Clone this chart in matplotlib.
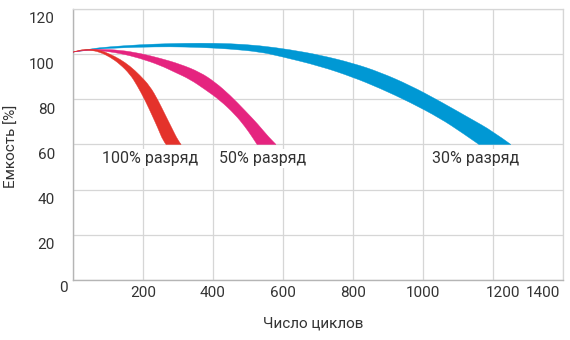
import numpy as np
import matplotlib
matplotlib.use("Agg")
import matplotlib.pyplot as plt
from matplotlib.path import Path
from matplotlib.patches import PathPatch
from matplotlib.transforms import ScaledTranslation

plt.rcParams['font.family'] = ['Roboto', 'DejaVu Sans']

# Capacity (%) vs. number of cycles, each band bounded by an outer and inner curve
red_outer_x = [0, 20, 49, 77, 106, 134, 163, 191, 220, 243, 263, 283, 300, 309]
red_outer_y = [100.9, 102.0, 102.2, 101.8, 100.0, 97.8, 94.7, 90.7, 85.8, 79.6, 73.3, 67.1, 61.8, 60.0]
red_inner_x = [0, 20, 49, 77, 106, 134, 163, 183, 206, 226, 243, 257, 266]
red_inner_y = [100.9, 101.8, 101.8, 100.9, 98.7, 95.6, 91.1, 86.2, 79.6, 72.9, 67.1, 61.8, 60.0]

mag_outer_x = [0, 34, 77, 134, 191, 249, 306, 363, 406, 449, 491, 529, 557, 580]
mag_outer_y = [100.9, 102.0, 102.2, 101.8, 100.4, 98.2, 95.6, 92.0, 87.6, 81.8, 75.1, 68.9, 63.6, 60.0]
mag_inner_x = [0, 34, 77, 134, 191, 249, 291, 334, 377, 420, 463, 491, 511, 526]
mag_inner_y = [100.9, 101.8, 101.6, 100.4, 98.2, 95.1, 92.0, 88.9, 84.4, 79.6, 73.3, 68.0, 63.6, 60.0]

blue_outer_x = [0, 49, 106, 191, 277, 363, 449, 534, 620, 706, 800, 877, 963, 1049, 1134, 1200, 1251]
blue_outer_y = [100.9, 102.4, 103.3, 104.2, 104.7, 104.9, 104.7, 103.8, 102.0, 99.6, 96.0, 92.0, 86.2, 79.1, 71.6, 65.8, 60.0]
blue_inner_x = [0, 49, 106, 191, 277, 363, 449, 534, 591, 706, 800, 877, 963, 1049, 1111, 1160]
blue_inner_y = [100.9, 102.0, 102.6, 103.1, 103.3, 103.0, 102.3, 101.0, 99.1, 94.7, 89.8, 84.9, 78.7, 71.6, 65.3, 60.0]

band_labels = ["30% разряд", "50% разряд", "100% разряд"]
label_x = [1151, 543, 220]
label_y = 53.8

x_ticks = [200, 400, 600, 800, 1000, 1200, 1400]
y_ticks = [20, 40, 60, 80, 100, 120]

colors = ["#0098d4", "#e5247f", "#e4322b"]


def smooth_segments(xs, ys):
    """Quadratic Bezier chain through midpoints, using the points as controls."""
    pts = np.column_stack([xs, ys])
    verts, codes = [], []
    for i in range(1, len(pts) - 1):
        mid = (pts[i] + pts[i + 1]) / 2 if i < len(pts) - 2 else pts[i + 1]
        verts += [pts[i], mid]
        codes += [Path.CURVE3, Path.CURVE3]
    return verts, codes


def band_path(ox, oy, ix, iy):
    verts = [(ox[0], oy[0])]
    codes = [Path.MOVETO]
    v, c = smooth_segments(ox, oy)
    verts += v
    codes += c
    # straight cut along the bottom edge
    verts.append((ix[-1], iy[-1]))
    codes.append(Path.LINETO)
    v, c = smooth_segments(ix[::-1], iy[::-1])
    verts += v
    codes += c
    verts.append((ox[0], oy[0]))
    codes.append(Path.CLOSEPOLY)
    return Path(verts, codes)


fig = plt.figure(figsize=(5.7, 3.4), dpi=100)
ax = fig.add_axes([73 / 570, 1 - 280 / 340, 490 / 570, 271 / 340])

ax.set_xlim(0, 1400)
ax.set_ylim(0, 120)

bands = [
    (blue_outer_x, blue_outer_y, blue_inner_x, blue_inner_y),
    (mag_outer_x, mag_outer_y, mag_inner_x, mag_inner_y),
    (red_outer_x, red_outer_y, red_inner_x, red_inner_y),
]
for (ox, oy, ix, iy), c in zip(bands, colors):
    patch = PathPatch(band_path(ox, oy, ix, iy), facecolor=c, edgecolor=c, lw=0.3, zorder=3)
    ax.add_patch(patch)

grid_c = "#d6d6d6"
ax.set_xticks([0] + x_ticks)
ax.set_yticks([0] + y_ticks)
ax.grid(True, color=grid_c, lw=0.9, zorder=0)
ax.set_axisbelow(True)
for s in ["top", "right"]:
    ax.spines[s].set_color(grid_c)
    ax.spines[s].set_linewidth(0.9)
for s in ["left", "bottom"]:
    ax.spines[s].set_color("#b5b5b5")
    ax.spines[s].set_linewidth(1.0)

ax.set_xticklabels([""] + [str(v) for v in x_ticks])
ax.set_yticklabels([""] + [str(v) for v in y_ticks])
ax.tick_params(axis="both", length=0, labelsize=11, labelcolor="#333333")
ax.tick_params(axis="y", pad=13)
ax.tick_params(axis="x", pad=4.5)

for lab in ax.get_yticklabels():
    lab.set_transform(lab.get_transform() + ScaledTranslation(0, -9 / 100, fig.dpi_scale_trans))
shifts = {"1200": 10, "1400": -20}
for lab, v in zip(ax.get_xticklabels(), [0] + x_ticks):
    dx = shifts.get(str(v), 0)
    if dx:
        lab.set_transform(lab.get_transform() + ScaledTranslation(dx / 100, 0, fig.dpi_scale_trans))

ax.annotate("0", xy=(0, 0), xytext=(-10, -8), textcoords="offset pixels",
            ha="center", va="center", fontsize=11, color="#333333", annotation_clip=False)

for txt, x in zip(band_labels, label_x):
    ax.text(x, label_y, txt, ha="center", va="center", fontsize=11.5, color="#333333",
            zorder=4, bbox=dict(facecolor="white", edgecolor="none", pad=1.5))

fig.text(313 / 570, 1 - 324 / 340, "Число циклов", ha="center", va="center",
         fontsize=11, color="#333333")
fig.text(12 / 570, 1 - 146 / 340, "Емкость [%]", ha="center", va="center",
         rotation=90, fontsize=11, color="#333333")

fig.savefig("out.png", dpi=100, facecolor="white")
